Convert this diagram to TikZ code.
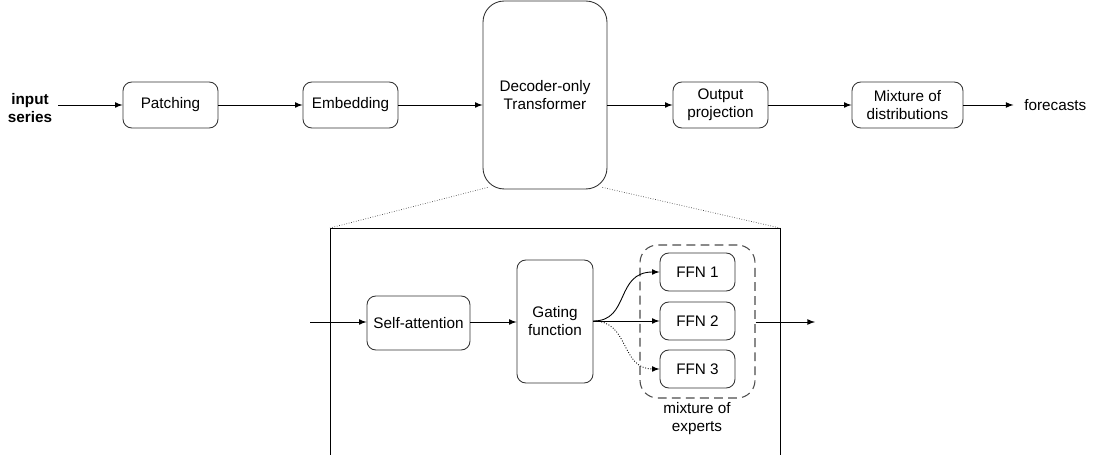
\documentclass[tikz,border=0pt]{standalone}
\usepackage{fontspec}
\setmainfont{Liberation Sans}
\begin{document}
\begin{tikzpicture}[x=0.02cm,y=-0.02cm,font=\fontsize{8.7}{10.2}\selectfont,
 box/.style={draw=black!80,rounded corners=5pt,align=center,inner sep=0pt,line width=0.5pt},
 arr/.style={-latex,line width=0.5pt}]
\useasboundingbox (0,0) rectangle (1100,455);
\node[font=\fontsize{8.7}{10.2}\selectfont\bfseries,align=center] (in) at (30,108) {input\\series};
\node[box,minimum width=1.9cm,minimum height=0.92cm] (pat) at (170.5,105) {Patching};
\node[box,minimum width=1.9cm,minimum height=0.92cm] (emb) at (350.5,105) {Embedding};
\node[box,rounded corners=12pt,minimum width=2.48cm,minimum height=3.76cm] (dec) at (545,95) {Decoder-only\\Transformer};
\node[box,minimum width=1.9cm,minimum height=0.92cm] (out) at (720.5,105) {Output\\projection};
\node[box,minimum width=2.22cm,minimum height=0.92cm] (mix) at (907.5,105) {Mixture of\\distributions};
\node[anchor=west,inner sep=0pt] (fc) at (1024,105) {forecasts};
\draw[arr] (in.east|-pat) -- (pat);
\draw[arr] (pat) -- (emb);
\draw[arr] (emb) -- (emb-|dec.west);
\draw[arr] (emb-|dec.east) -- (out);
\draw[arr] (out) -- (mix);
\draw[arr,shorten >=6pt] (mix) -- (fc);
% lower box
\coordinate (bl) at (330,455); \coordinate (tl) at (330,228);
\coordinate (tr) at (780,228); \coordinate (br) at (780,455);
\draw[line width=0.5pt] (bl) -- (tl) -- (tr) -- (br);
\draw[densely dotted,black!70] (dec.south west) ++(5,-2) -- (tl);
\draw[densely dotted,black!70] (dec.south east) ++(-5,-2) -- (tr);
\coordinate (lin) at (310,322);
\node[box,minimum width=2.06cm,minimum height=1.08cm] (sa) at (418.5,323) {Self-attention};
\node[box,minimum width=1.52cm,minimum height=2.46cm] (gate) at (555,321.5) {Gating\\function};
\node[box,minimum width=1.5cm,minimum height=0.76cm] (f1) at (697.5,272) {FFN 1};
\node[box,minimum width=1.5cm,minimum height=0.76cm] (f2) at (697.5,321) {FFN 2};
\node[box,minimum width=1.5cm,minimum height=0.76cm] (f3) at (697.5,369) {FFN 3};
\node[draw=black!70,dash pattern=on 5pt off 3pt,rounded corners=10pt,minimum width=2.3cm,minimum height=3.06cm,line width=0.6pt] (moe) at (697.5,321.5) {};
\node[align=center,anchor=north,inner sep=0pt] (moet) at (697,402) {mixture of\\experts};
\coordinate (rout) at (815,322);
\draw[arr] (lin) -- (sa.west|-lin);
\draw[arr] (sa.east|-lin) -- (gate.west|-lin);
\coordinate (g) at (gate.east|-f2);
\draw[arr] (g) .. controls (630,321) and (615,272) .. (f1.west);
\draw[arr] (g) -- (f2.west);
\draw[arr,densely dotted] (g) .. controls (630,321) and (620,369) .. (f3.west);
\draw[arr] (moe.east|-lin) -- (rout);
\end{tikzpicture}
\end{document}
